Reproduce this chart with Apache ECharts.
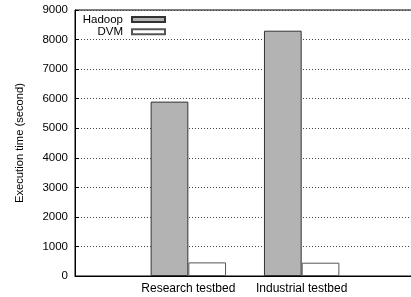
<!DOCTYPE html>
<html>
<head>
    <meta charset="utf-8">
    <title>ECharts</title>
    <script src="https://cdn.jsdelivr.net/npm/echarts@6/dist/echarts.min.js"></script>
</head>
<body style="margin:0">
    <div id="main" style="width:411px;height:297px;"></div>
    <script type="text/javascript">
    // empty slots at both ends keep the gnuplot x range (-1 .. 2)
    var categories = ['', 'Research testbed', 'Industrial testbed', ''];
    var hadoop = [null, 5900, 8300, null];
    var dvm = [null, 460, 450, null];
    var yTicks = [0, 1000, 2000, 3000, 4000, 5000, 6000, 7000, 8000, 9000];

    var font = 'Liberation Sans, Arial, Helvetica, sans-serif';
    var myChart = echarts.init(document.getElementById('main'));

    var option = {
        animation: false,
        textStyle: {fontFamily: font},
        grid: {
            show: true,
            left: 75,
            top: 10,
            width: 340,
            height: 266,
            outerBoundsMode: 'none',
            containLabel: false,
            borderColor: '#000',
            borderWidth: 1
        },
        legend: [
            {
                data: ['Hadoop'],
                right: 245,
                top: 13.5,
                padding: 0,
                align: 'right',
                icon: 'rect',
                itemWidth: 33,
                itemHeight: 5,
                textStyle: {fontSize: 11.5, color: '#000', fontFamily: font, padding: [0, 4, 0, 0]}
            },
            {
                data: ['DVM'],
                right: 245,
                top: 25.7,
                padding: 0,
                align: 'right',
                icon: 'rect',
                itemWidth: 33,
                itemHeight: 5,
                textStyle: {fontSize: 11.5, color: '#000', fontFamily: font, padding: [0, 4, 0, 0]}
            }
        ],
        xAxis: {
            type: 'category',
            data: categories,
            boundaryGap: false,
            axisLine: {lineStyle: {color: '#000', width: 1}},
            axisTick: {show: false},
            axisLabel: {color: '#000', fontSize: 12, margin: 7, interval: 0, fontFamily: font},
            splitLine: {show: false}
        },
        yAxis: {
            type: 'value',
            min: yTicks[0],
            max: yTicks[yTicks.length - 1],
            interval: 1000,
            name: 'Execution time (second)',
            nameLocation: 'middle',
            nameGap: 50,
            nameTextStyle: {fontSize: 11.2, color: '#000', fontFamily: font},
            axisLine: {show: true, lineStyle: {color: '#000', width: 1}},
            axisTick: {show: true, inside: true, length: 4, lineStyle: {color: '#000'}},
            axisLabel: {
                color: '#000', fontSize: 11.5, margin: 7, fontFamily: font,
                formatter: function (v) { return String(v); }
            },
            splitLine: {show: true, lineStyle: {color: '#444', type: [1, 2], width: 1}}
        },
        series: [
            {
                name: 'Hadoop',
                type: 'bar',
                data: hadoop,
                barWidth: 37.7,
                barGap: '0%',
                itemStyle: {color: '#b3b3b3', borderColor: '#333', borderWidth: 1}
            },
            {
                name: 'DVM',
                type: 'bar',
                data: dvm,
                barWidth: 37.7,
                barGap: '0%',
                itemStyle: {color: '#fff', borderColor: '#555', borderWidth: 1}
            }
        ]
    };

    myChart.setOption(option);
    </script>
</body>
</html>
